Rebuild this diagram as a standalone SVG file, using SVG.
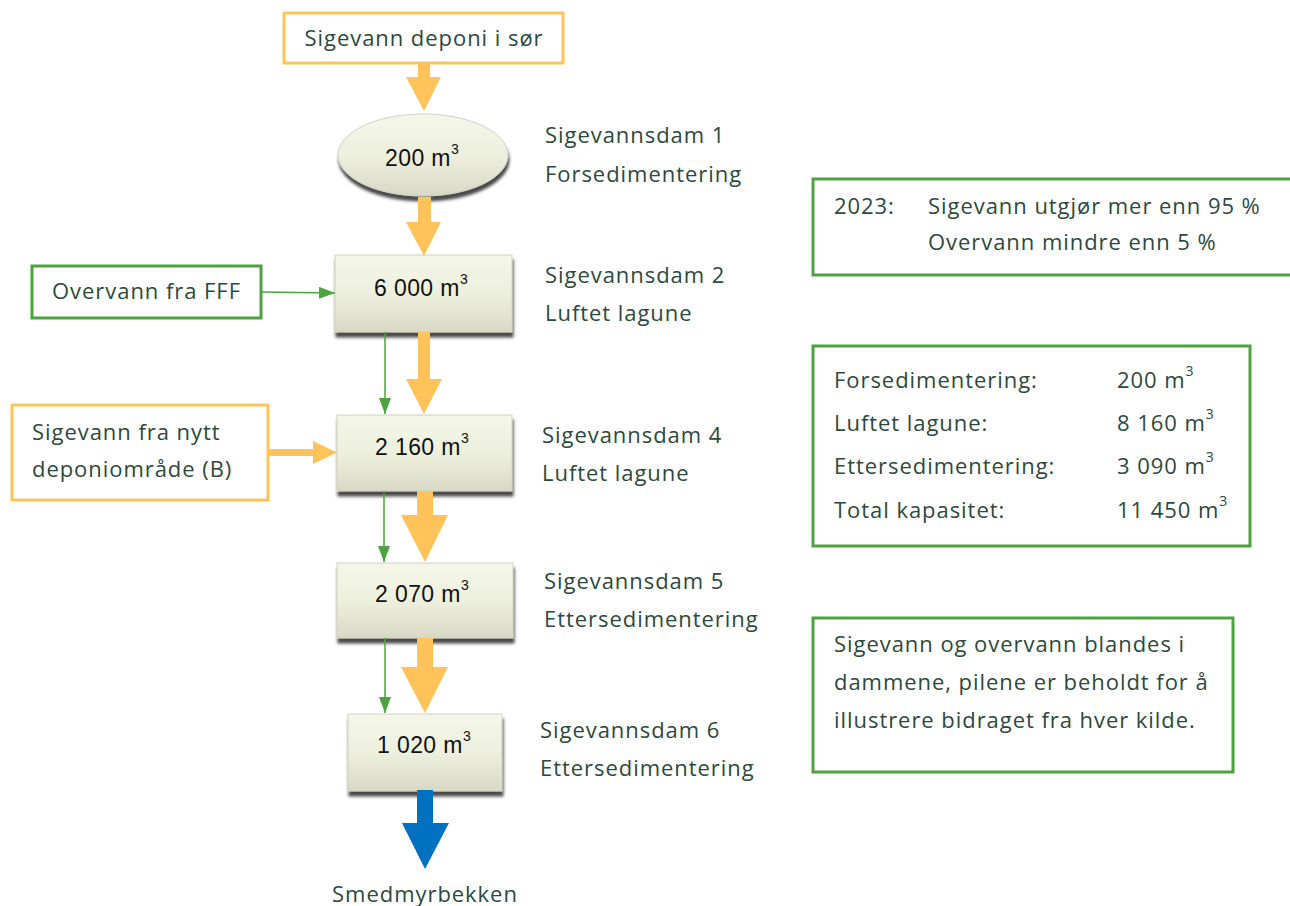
<svg xmlns="http://www.w3.org/2000/svg" width="1290" height="906" viewBox="0 0 1290 906">
<defs>
<linearGradient id="pond" x1="0" y1="0" x2="0" y2="1">
<stop offset="0" stop-color="#F4F6E8"/>
<stop offset="0.5" stop-color="#EEF0DE"/>
<stop offset="1" stop-color="#D8D9C5"/>
</linearGradient>
<filter id="sh" x="-10%" y="-10%" width="125%" height="135%">
<feDropShadow dx="1" dy="5" stdDeviation="1.6" flood-color="#2a2a2a" flood-opacity="0.85"/>
</filter>
<marker id="gh" markerWidth="16" markerHeight="12" refX="16" refY="6" orient="auto" markerUnits="userSpaceOnUse">
<path d="M0,0 L16,6 L0,12 Z" fill="#4CA33F"/>
</marker>
</defs>
<style>
.t{font-family:"Open Sans",Lato,sans-serif;font-size:22px;letter-spacing:0.95px;fill:#2C4A3C}
.n{font-family:"Liberation Sans",Arial,sans-serif;font-size:23px;letter-spacing:0.4px;fill:#111}
.sup{font-size:14px}
.ob{fill:#fff;stroke:#FFC35A;stroke-width:3}
.gb{fill:#fff;stroke:#4CA33F;stroke-width:3}
.pond{fill:url(#pond);stroke:#D0D2C0;stroke-width:1;filter:url(#sh)}
.oa{fill:#FFC35A}
.ba{fill:#0070C0}
.gl{stroke:#4CA33F;stroke-width:1.5;fill:none}
</style>

<g id="src-sor">
<rect class="ob" x="284" y="13" width="279" height="50"/>
<text class="t" x="424" y="46" text-anchor="middle">Sigevann deponi i sør</text>
</g>

<g id="dam1">
<ellipse class="pond" cx="423" cy="155" rx="85" ry="41"/>
<text class="n" x="385" y="166">200 m<tspan class="sup" dy="-12">3</tspan></text>
<text class="t" x="545" y="143">Sigevannsdam 1</text>
<text class="t" x="545" y="182">Forsedimentering</text>
</g>

<g id="dam2">
<rect class="pond" x="335" y="255" width="177" height="77"/>
<text class="n" x="374" y="296">6 000 m<tspan class="sup" dy="-12">3</tspan></text>
<text class="t" x="545" y="283">Sigevannsdam 2</text>
<text class="t" x="545" y="321">Luftet lagune</text>
</g>

<g id="overvann-fff">
<rect class="gb" x="32" y="266" width="229" height="52"/>
<text class="t" x="146.500" y="299" text-anchor="middle">Overvann fra FFF</text>
</g>

<g id="dam4">
<rect class="pond" x="337" y="415" width="175" height="76"/>
<text class="n" x="375" y="455">2 160 m<tspan class="sup" dy="-12">3</tspan></text>
<text class="t" x="542" y="443">Sigevannsdam 4</text>
<text class="t" x="542" y="481">Luftet lagune</text>
</g>

<g id="src-nytt">
<rect class="ob" x="12" y="405" width="256" height="95"/>
<text class="t" x="32" y="440">Sigevann fra nytt</text>
<text class="t" x="32" y="477">deponiområde (B)</text>
</g>

<g id="dam5">
<rect class="pond" x="337" y="563" width="176" height="75"/>
<text class="n" x="375" y="602">2 070 m<tspan class="sup" dy="-12">3</tspan></text>
<text class="t" x="544" y="589">Sigevannsdam 5</text>
<text class="t" x="544" y="627">Ettersedimentering</text>
</g>

<g id="dam6">
<rect class="pond" x="348" y="714" width="154" height="77"/>
<text class="n" x="377" y="753">1 020 m<tspan class="sup" dy="-12">3</tspan></text>
<text class="t" x="540" y="738">Sigevannsdam 6</text>
<text class="t" x="540" y="776">Ettersedimentering</text>
</g>

<g id="smedmyrbekken">
<text class="t" x="425" y="902" text-anchor="middle">Smedmyrbekken</text>
</g>

<g id="info-2023">
<rect class="gb" x="813" y="179" width="490" height="96"/>
<text class="t" x="834" y="214">2023:</text>
<text class="t" x="928" y="214">Sigevann utgjør mer enn 95 %</text>
<text class="t" x="928" y="250">Overvann mindre enn 5 %</text>
</g>

<g id="info-kapasitet">
<rect class="gb" x="813" y="346" width="437" height="200"/>
<text class="t" x="834" y="388">Forsedimentering:</text>
<text class="t" x="834" y="431">Luftet lagune:</text>
<text class="t" x="834" y="474">Ettersedimentering:</text>
<text class="t" x="834" y="518">Total kapasitet:</text>
<text class="t" x="1117" y="388">200 m<tspan class="sup" dy="-12">3</tspan></text>
<text class="t" x="1117" y="431">8 160 m<tspan class="sup" dy="-12">3</tspan></text>
<text class="t" x="1117" y="474">3 090 m<tspan class="sup" dy="-12">3</tspan></text>
<text class="t" x="1117" y="518">11 450 m<tspan class="sup" dy="-12">3</tspan></text>
</g>

<g id="info-note">
<rect class="gb" x="813" y="618" width="420" height="154"/>
<text class="t" x="834" y="652">Sigevann og overvann blandes i</text>
<text class="t" x="834" y="690">dammene, pilene er beholdt for å</text>
<text class="t" x="834" y="728">illustrere bidraget fra hver kilde.</text>
</g>

<g id="connectors">
<polygon class="oa" points="418,63 430,63 430,77 441,77 424,111 406,77 418,77"/>
<polygon class="oa" points="418,197 431,197 431,222 441,222 424,256 406,222 418,222"/>
<polygon class="oa" points="418,332 430,332 430,379 442,379 424,414 406,379 418,379"/>
<polygon class="oa" points="417,491 433,491 433,515 448,515 425,562 401,515 417,515"/>
<polygon class="oa" points="417,638 433,638 433,667 448,667 425,713 401,667 417,667"/>
<polygon class="oa" points="268,449 313,449 313,441 337,452.500 313,464 313,456 268,456"/>
<polygon class="ba" points="417,790 433,790 433,823 449,823 425,869 402,823 417,823"/>
<line class="gl" x1="261" y1="292" x2="335" y2="293" marker-end="url(#gh)"/>
<line class="gl" x1="385" y1="332" x2="385" y2="414" marker-end="url(#gh)"/>
<line class="gl" x1="384" y1="491" x2="384" y2="562" marker-end="url(#gh)"/>
<line class="gl" x1="385" y1="638" x2="385" y2="713" marker-end="url(#gh)"/>
</g>
</svg>
